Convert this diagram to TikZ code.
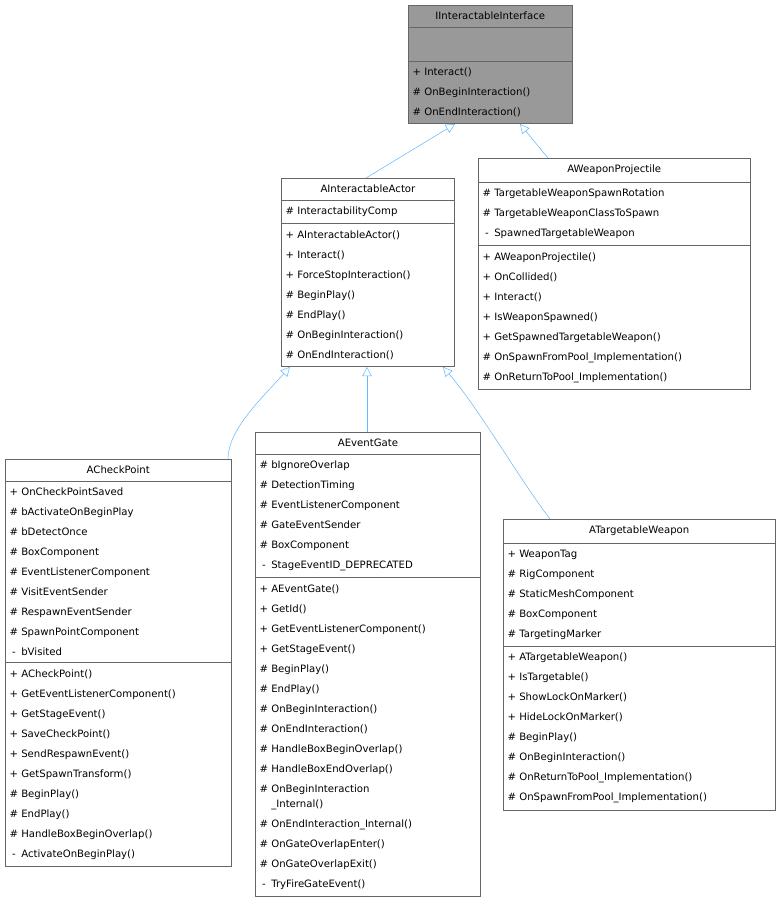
\documentclass[tikz,border=0pt]{standalone}
\usepackage{fontspec}
\setmainfont{DejaVu Sans}
\usepackage{tikz}
\usetikzlibrary{
  shapes.multipart, % Style "rectangle split"
  arrows.meta,      % Tip "Triangle[open]"
  positioning
}
\definecolor{boxline}{HTML}{666666}
\definecolor{inhline}{HTML}{63B8FF}
\definecolor{ifacefill}{HTML}{999999}
\newcommand{\mb}[2]{\makebox[1.45em][c]{#1}#2}
\newcommand{\ttl}[1]{\hfill #1\hfill\null}
\tikzset{
  font=\fontsize{7.6}{15}\selectfont,
  cls/.style={
    draw=boxline,
    rectangle split,
    rectangle split parts=3,
    rectangle split draw splits=true,
    anchor=north west,
    align=left,
    inner xsep=1pt,
    inner ysep=5pt,
    text width=#1,
    fill=white
  },
  inherit/.style={
    draw=inhline,
    -{Triangle[open,length=7pt,width=7pt]}
  }
}
\begin{document}
\begin{tikzpicture}[x=0.75pt,y=-0.75pt]
\useasboundingbox (0,0) rectangle (781,897);
% base
\node[cls=121pt,fill=ifacefill] (iface) at (408,5)
  {\ttl{IInteractableInterface}
   \nodepart{two}\strut
   \nodepart{three}\mb{+}{Interact()}\\\mb{\#}{OnBeginInteraction()}\\\mb{\#}{OnEndInteraction()}};
% second level
\node[cls=128pt] (actor) at (281,178)
  {\ttl{AInteractableActor}
   \nodepart{two}\mb{\#}{InteractabilityComp}
   \nodepart{three}\mb{+}{AInteractableActor()}\\\mb{+}{Interact()}\\\mb{+}{ForceStopInteraction()}\\
   \mb{\#}{BeginPlay()}\\\mb{\#}{EndPlay()}\\\mb{\#}{OnBeginInteraction()}\\\mb{\#}{OnEndInteraction()}};
\node[cls=202pt] (projectile) at (478,158)
  {\ttl{AWeaponProjectile}
   \nodepart{two}\mb{\#}{TargetableWeaponSpawnRotation}\\\mb{\#}{TargetableWeaponClassToSpawn}\\\mb{-}{SpawnedTargetableWeapon}
   \nodepart{three}\mb{+}{AWeaponProjectile()}\\\mb{+}{OnCollided()}\\\mb{+}{Interact()}\\\mb{+}{IsWeaponSpawned()}\\
   \mb{+}{GetSpawnedTargetableWeapon()}\\\mb{\#}{OnSpawnFromPool\_Implementation()}\\\mb{\#}{OnReturnToPool\_Implementation()}};
% third level
\node[cls=167.5pt] (checkpoint) at (5,459)
  {\ttl{ACheckPoint}
   \nodepart{two}\mb{+}{OnCheckPointSaved}\\\mb{\#}{bActivateOnBeginPlay}\\\mb{\#}{bDetectOnce}\\\mb{\#}{BoxComponent}\\
   \mb{\#}{EventListenerComponent}\\\mb{\#}{VisitEventSender}\\\mb{\#}{RespawnEventSender}\\\mb{\#}{SpawnPointComponent}\\\mb{-}{bVisited}
   \nodepart{three}\mb{+}{ACheckPoint()}\\\mb{+}{GetEventListenerComponent()}\\\mb{+}{GetStageEvent()}\\\mb{+}{SaveCheckPoint()}\\
   \mb{+}{SendRespawnEvent()}\\\mb{+}{GetSpawnTransform()}\\\mb{\#}{BeginPlay()}\\\mb{\#}{EndPlay()}\\
   \mb{\#}{HandleBoxBeginOverlap()}\\\mb{-}{ActivateOnBeginPlay()}};
\node[cls=167pt] (eventgate) at (255,432)
  {\ttl{AEventGate}
   \nodepart{two}\mb{\#}{bIgnoreOverlap}\\\mb{\#}{DetectionTiming}\\\mb{\#}{EventListenerComponent}\\\mb{\#}{GateEventSender}\\
   \mb{\#}{BoxComponent}\\\mb{-}{StageEventID\_DEPRECATED}
   \nodepart{three}\mb{+}{AEventGate()}\\\mb{+}{GetId()}\\\mb{+}{GetEventListenerComponent()}\\\mb{+}{GetStageEvent()}\\
   \mb{\#}{BeginPlay()}\\\mb{\#}{EndPlay()}\\\mb{\#}{OnBeginInteraction()}\\\mb{\#}{OnEndInteraction()}\\
   \mb{\#}{HandleBoxBeginOverlap()}\\\mb{\#}{HandleBoxEndOverlap()}\\\mb{\#}{OnBeginInteraction}\\[-4pt]\mb{}{\_Internal()}\\
   \mb{\#}{OnEndInteraction\_Internal()}\\\mb{\#}{OnGateOverlapEnter()}\\\mb{\#}{OnGateOverlapExit()}\\\mb{-}{TryFireGateEvent()}};
\node[cls=202pt] (weapon) at (503,519)
  {\ttl{ATargetableWeapon}
   \nodepart{two}\mb{+}{WeaponTag}\\\mb{\#}{RigComponent}\\\mb{\#}{StaticMeshComponent}\\\mb{\#}{BoxComponent}\\\mb{\#}{TargetingMarker}
   \nodepart{three}\mb{+}{ATargetableWeapon()}\\\mb{+}{IsTargetable()}\\\mb{+}{ShowLockOnMarker()}\\\mb{+}{HideLockOnMarker()}\\
   \mb{\#}{BeginPlay()}\\\mb{\#}{OnBeginInteraction()}\\\mb{\#}{OnReturnToPool\_Implementation()}\\\mb{\#}{OnSpawnFromPool\_Implementation()}};
% inheritance
\draw[inherit] (actor.north -| 366,0) -- (iface.south -| 455,0);
\draw[inherit] (projectile.north -| 548,0) -- (iface.south -| 520,0);
\draw[inherit] (checkpoint.north -| 228,0) .. controls (228,430) and (260,400) .. (actor.south -| 290,0);
\draw[inherit] (eventgate.north -| 367,0) -- (actor.south -| 367,0);
\draw[inherit] (weapon.north -| 550,0) .. controls (520,480) and (480,410) .. (actor.south -| 443,0);
\end{tikzpicture}
\end{document}
